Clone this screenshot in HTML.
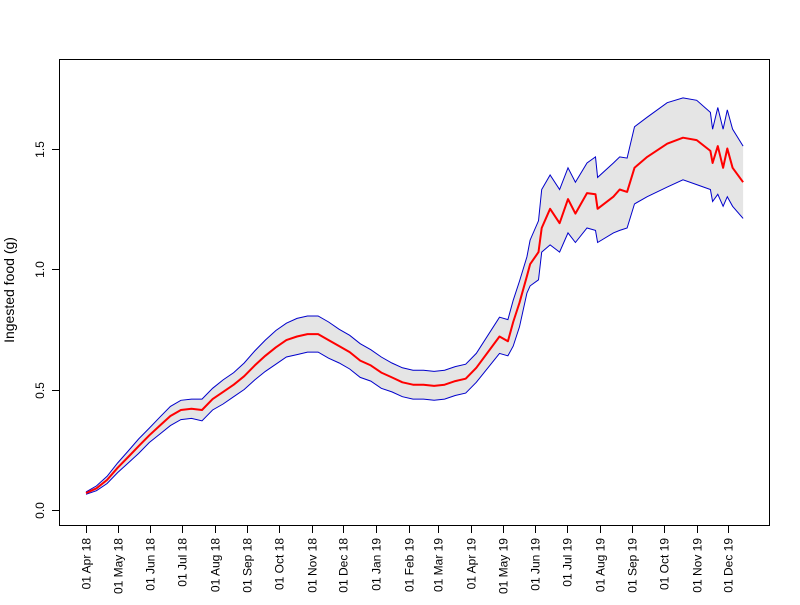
<!DOCTYPE html>
<html><head><meta charset="utf-8"><style>
body{margin:0;background:#fff}
svg text{font-family:"Liberation Sans",Arial,sans-serif;fill:#000}
</style></head><body>
<svg id="chart" width="800" height="600">
<rect width="800" height="600" fill="#fff"/>
<g id="band"></g>
<g id="axes"></g>
<rect x="59.5" y="59.5" width="710" height="466" fill="none" stroke="#000"/>
<text x="0" y="0" font-size="14" text-anchor="middle" transform="translate(14,290) rotate(-90)">Ingested food (g)</text>
</svg>
<script>
const days=[0,10,20,30,40,50,60,70,80,90,100,110,120,130,140,150,160,170,180,190,200,210,220,230,240,250,260,270,280,290,300,310,320,330,340,350,360,370,392,400,405,411,418,421,429,432,440,449,457,464,475,483,485,500,506,513,520,532,551,566,579,592,594,599,604,608,613,623];
const meanVals=[0.07,0.09,0.125,0.175,0.22,0.265,0.31,0.35,0.39,0.415,0.42,0.415,0.46,0.49,0.52,0.555,0.60,0.64,0.675,0.705,0.72,0.73,0.73,0.705,0.68,0.655,0.62,0.60,0.57,0.55,0.53,0.52,0.52,0.515,0.52,0.535,0.545,0.59,
0.72,0.70,0.78,0.86,0.97,1.02,1.07,1.17,1.25,1.19,1.29,1.23,1.315,1.31,1.25,1.30,1.33,1.32,1.42,1.465,1.52,1.545,1.535,1.49,1.44,1.51,1.42,1.50,1.42,1.36];
const upperVals=[0.075,0.10,0.14,0.195,0.245,0.295,0.34,0.385,0.43,0.455,0.46,0.46,0.505,0.54,0.57,0.61,0.66,0.705,0.745,0.775,0.795,0.805,0.805,0.78,0.75,0.725,0.69,0.665,0.635,0.61,0.59,0.58,0.58,0.575,0.58,0.595,0.605,0.65,
0.80,0.79,0.87,0.95,1.05,1.12,1.20,1.33,1.39,1.33,1.42,1.36,1.44,1.465,1.38,1.44,1.465,1.46,1.59,1.63,1.69,1.71,1.70,1.65,1.58,1.67,1.58,1.66,1.58,1.51];
const lowerVals=[0.065,0.08,0.11,0.155,0.195,0.235,0.28,0.315,0.35,0.375,0.38,0.37,0.415,0.44,0.47,0.50,0.54,0.575,0.605,0.635,0.645,0.655,0.655,0.63,0.61,0.585,0.55,0.535,0.505,0.49,0.47,0.46,0.46,0.455,0.46,0.475,0.485,0.53,
0.65,0.64,0.68,0.76,0.90,0.93,0.955,1.07,1.10,1.07,1.15,1.11,1.17,1.16,1.11,1.15,1.16,1.17,1.27,1.30,1.34,1.37,1.35,1.33,1.28,1.31,1.26,1.30,1.26,1.21];
const yTicks=[0,0.5,1.0,1.5];
const yTickLabels=["0.0","0.5","1.0","1.5"];
const xTickDays=[0,30,61,91,122,153,183,214,244,275,306,334,365,395,426,456,487,518,548,579,609];
const xTickLabels=["01 Apr 18","01 May 18","01 Jun 18","01 Jul 18","01 Aug 18","01 Sep 18","01 Oct 18","01 Nov 18","01 Dec 18","01 Jan 19","01 Feb 19","01 Mar 19","01 Apr 19","01 May 19","01 Jun 19","01 Jul 19","01 Aug 19","01 Sep 19","01 Oct 19","01 Nov 19","01 Dec 19"];
const NS="http://www.w3.org/2000/svg";
const xs=d=>86+d*1.0548;
const ys=v=>510-241*v;
const svg=document.getElementById('chart');
const band=document.getElementById('band');
const axes=document.getElementById('axes');
function mk(t,a){const e=document.createElementNS(NS,t);for(const k in a)e.setAttribute(k,a[k]);return e;}
const up=days.map((d,i)=>xs(d).toFixed(1)+','+ys(upperVals[i]).toFixed(1));
const lo=days.map((d,i)=>xs(d).toFixed(1)+','+ys(lowerVals[i]).toFixed(1));
const poly=mk('polygon',{points:up.concat(lo.slice().reverse()).join(' '),fill:'#e5e5e5',stroke:'none'});


band.appendChild(poly);
const ul=mk('polyline',{points:up.join(' '),fill:'none',stroke:'#0000cc','stroke-width':1});


band.appendChild(ul);
const ll=mk('polyline',{points:lo.join(' '),fill:'none',stroke:'#0000cc','stroke-width':1});


band.appendChild(ll);
const ml=mk('polyline',{points:days.map((d,i)=>xs(d).toFixed(1)+','+ys(meanVals[i]).toFixed(1)).join(' '),fill:'none',stroke:'#ff0000','stroke-width':2,'stroke-linejoin':'round'});


band.appendChild(ml);
yTicks.forEach((v,i)=>{
 const y=Math.round(ys(v))+0.5;
 const t=mk('line',{x1:52,x2:59,y1:y,y2:y,stroke:'#000'});
 
 
 axes.appendChild(t);
 const l=mk('text',{'font-size':12,'text-anchor':'middle',transform:`translate(44,${y}) rotate(-90)`});
 l.textContent=yTickLabels[i];
 
 
 axes.appendChild(l);
});
xTickDays.forEach((d,i)=>{
 const x=Math.round(xs(d))+0.5;
 const t=mk('line',{x1:x,x2:x,y1:526,y2:533,stroke:'#000'});
 
 
 axes.appendChild(t);
 const l=mk('text',{'font-size':12,'text-anchor':'end',transform:`translate(${x+4},538) rotate(-90)`});
 l.textContent=xTickLabels[i];
 
 
 axes.appendChild(l);
});
</script>
</body></html>
